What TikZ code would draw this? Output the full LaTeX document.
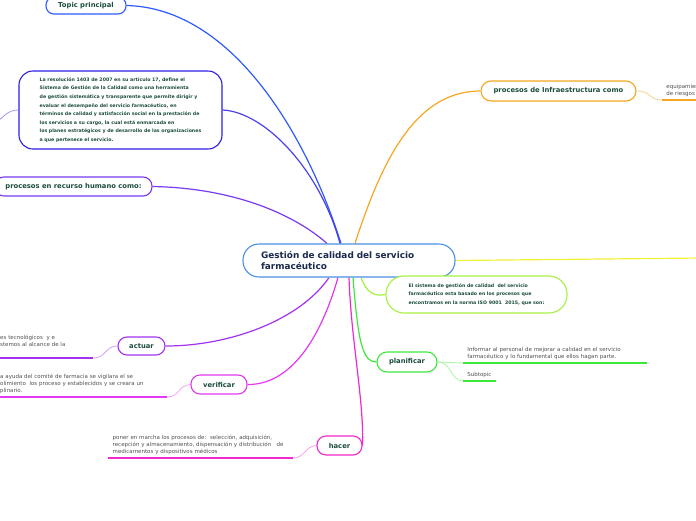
\documentclass[tikz,border=0pt]{standalone}
\usepackage{fontspec}
\setmainfont{DejaVu Sans}
\usetikzlibrary{backgrounds}
\definecolor{gcblue}{RGB}{74,144,226}
\definecolor{gctxt}{RGB}{27,42,78}
\definecolor{ndtxt}{RGB}{28,77,61}
\definecolor{sbtxt}{RGB}{80,80,80}
\definecolor{tpblue}{RGB}{45,90,255}
\definecolor{rsblue}{RGB}{45,30,228}
\definecolor{rhpurp}{RGB}{122,58,242}
\definecolor{acpurp}{RGB}{162,50,240}
\definecolor{vrmag}{RGB}{226,56,240}
\definecolor{hcpink}{RGB}{242,40,205}
\definecolor{plgreen}{RGB}{60,232,60}
\definecolor{isogreen}{RGB}{166,240,64}
\definecolor{ylw}{RGB}{245,240,50}
\definecolor{orng}{RGB}{245,166,35}

\begin{document}
\begin{tikzpicture}[x=1pt,y=-1pt,
    nd/.style={draw,fill=white,line width=1.1pt,rounded corners=9pt,text=ndtxt,
      font=\fontsize{6.8}{8}\selectfont\bfseries,inner sep=0pt},
    tx/.style={nd,align=left,font=\fontsize{4.7}{8.57}\selectfont\bfseries},
    sub/.style={anchor=south west,inner xsep=4.5pt,inner ysep=3pt,align=left,
      text=sbtxt,font=\fontsize{5.5}{7}\selectfont},
    ul/.style={line width=1.8pt},
    lk/.style={line width=1.2pt},
    sl/.style={line width=0.8pt}]
  \useasboundingbox (0,0) rectangle (696,520);

  % main topic and branches
  \node[nd,draw=gcblue,text=gctxt,font=\fontsize{8.9}{11}\selectfont\bfseries,align=left,
    text width=176pt,inner xsep=18pt,minimum height=33pt,rounded corners=16pt]
    (gc) at (349,260.5) {Gestión de calidad del servicio\\farmacéutico};
  \node[nd,draw=tpblue,minimum width=80pt,minimum height=17pt,rounded corners=8pt]
    (tp) at (86,5.5) {Topic principal};
  \node[tx,draw=rsblue,minimum width=203pt,minimum height=78pt,rounded corners=14pt]
    (res) at (120.5,110) {La resolución 1403 de 2007 en su artículo 17, define el\\
    Sistema de Gestión de la Calidad como una herramienta\\
    de gestión sistemática y transparente que permite dirigir y\\
    evaluar el desempeño del servicio farmacéutico, en\\
    términos de calidad y satisfacción social en la prestación de\\
    los servicios a su cargo, la cual está enmarcada en\\
    los planes estratégicos y de desarrollo de las organizaciones\\
    a que pertenece el servicio.};
  \node[nd,draw=rhpurp,minimum width=157pt,minimum height=19pt]
    (rh) at (73.5,186.5) {procesos en recurso humano como:};
  \node[nd,draw=acpurp,minimum width=47pt,minimum height=18pt] (act) at (141.5,346) {actuar};
  \node[nd,draw=vrmag,minimum width=56pt,minimum height=19pt] (ver) at (219,384.5) {verificar};
  \node[nd,draw=hcpink,minimum width=45pt,minimum height=19pt] (hac) at (339.5,445.5) {hacer};
  \node[nd,draw=plgreen,minimum width=60pt,minimum height=20pt,rounded corners=10pt]
    (pla) at (407,362) {planificar};
  \node[tx,draw=isogreen,minimum width=181pt,minimum height=37pt,rounded corners=18pt]
    (iso) at (476.5,294.5) {El sistema de gestión de calidad\ \ del servicio\\
    farmacéutico esta basado en los procesos que\\
    encontramos en la norma ISO 9001\ \ 2015, que son:};
  \node[nd,draw=orng,minimum width=155pt,minimum height=20pt,rounded corners=10pt]
    (inf) at (558.5,91) {procesos de Infraestructura como};
  \coordinate (yl) at (702,258);
  \coordinate (rl) at (-6,125);

  % subtopics
  \node[sub,text width=60pt] (ic) at (661.7,100) {equipamiento\\de riesgos};
  \node[sub,text width=88.5pt,inner ysep=11pt] (ac) at (-4.5,358)
    {es tecnológicos\ \ y e\\stemos al alcance de la};
  \node[sub,text width=162pt] (vc) at (-4.5,397)
    {a ayuda del comité de farmacia se vigilara el se\\
    olimiento\ \ los proceso y establecidos y se creara un\\plinario.};
  \node[sub,text width=175.7pt] (hc) at (108,458)
    {poner en marcha los procesos de:\ \ selección, adquisición,\\
    recepción y almacenamiento, dispensación y distribución\ \ \ de\\
    medicamentos y dispositivos médicos};
  \node[sub,text width=175pt] (pc1) at (462.7,363)
    {Informar al personal de mejorar a calidad en el servicio\\
    farmacéutico y lo fundamental que ellos hagan parte.};
  \node[sub,text width=24.3pt] (pc2) at (462.7,380.7) {Subtopic};

  \begin{scope}[on background layer]
    \draw[lk,tpblue] (tp.east) .. controls (230,8) and (305,130) .. ([xshift=-8pt]gc.north);
    \draw[lk,rsblue!85!white] (res.east) .. controls (265,112) and (320,170) .. ([xshift=-9pt]gc.north);
    \draw[sl,rsblue!45!white] (res.west) .. controls (8,110) and (4,116) .. (rl);
    \draw[lk,rhpurp] (rh.east) .. controls (235,188) and (295,215) .. ([xshift=-22pt]gc.north);
    \draw[lk,orng] ([xshift=6pt]gc.north) .. controls (385,150) and (420,91) .. (inf.west);
    \draw[lk,ylw] (gc.east) -- (yl);
    \draw[lk,isogreen] ([xshift=12pt]gc.south) .. controls (366,292) and (374,297) .. (iso.west);
    \draw[lk,plgreen] ([xshift=4pt]gc.south) .. controls (358,340) and (362,362) .. (pla.west);
    \draw[lk,hcpink] (gc.south) .. controls (351,340) and (364,400) .. (hac.east);
    \draw[lk,vrmag] ([xshift=-11pt]gc.south) .. controls (320,340) and (290,385) .. (ver.east);
    \draw[lk,acpurp] ([xshift=-20pt]gc.south) .. controls (300,320) and (230,346) .. (act.east);

    \draw[sl,orng!55!white] (inf.east) .. controls (652,91) and (648,100) .. (ic.south west);
    \draw[ul,orng] (ic.south west) -- (ic.south east);
    \draw[sl,acpurp!45!white] (ac.south east) .. controls (106,358) and (105,346) .. (act.west);
    \draw[ul,acpurp] (ac.south west) -- (ac.south east);
    \draw[sl,vrmag!45!white] (vc.south east) .. controls (180,397) and (178,385) .. (ver.west);
    \draw[ul,vrmag] (vc.south west) -- (vc.south east);
    \draw[sl,hcpink!45!white] (hc.south east) .. controls (305,458) and (305,446) .. (hac.west);
    \draw[ul,hcpink] (hc.south west) -- (hc.south east);
    \draw[sl,plgreen!45!white] (pla.east) .. controls (450,362) and (450,363) .. (pc1.south west);
    \draw[ul,plgreen] (pc1.south west) -- (pc1.south east);
    \draw[sl,plgreen!45!white] (pla.east) .. controls (452,362) and (450,380.7) .. (pc2.south west);
    \draw[ul,plgreen] (pc2.south west) -- (pc2.south east);
  \end{scope}
\end{tikzpicture}
\end{document}
